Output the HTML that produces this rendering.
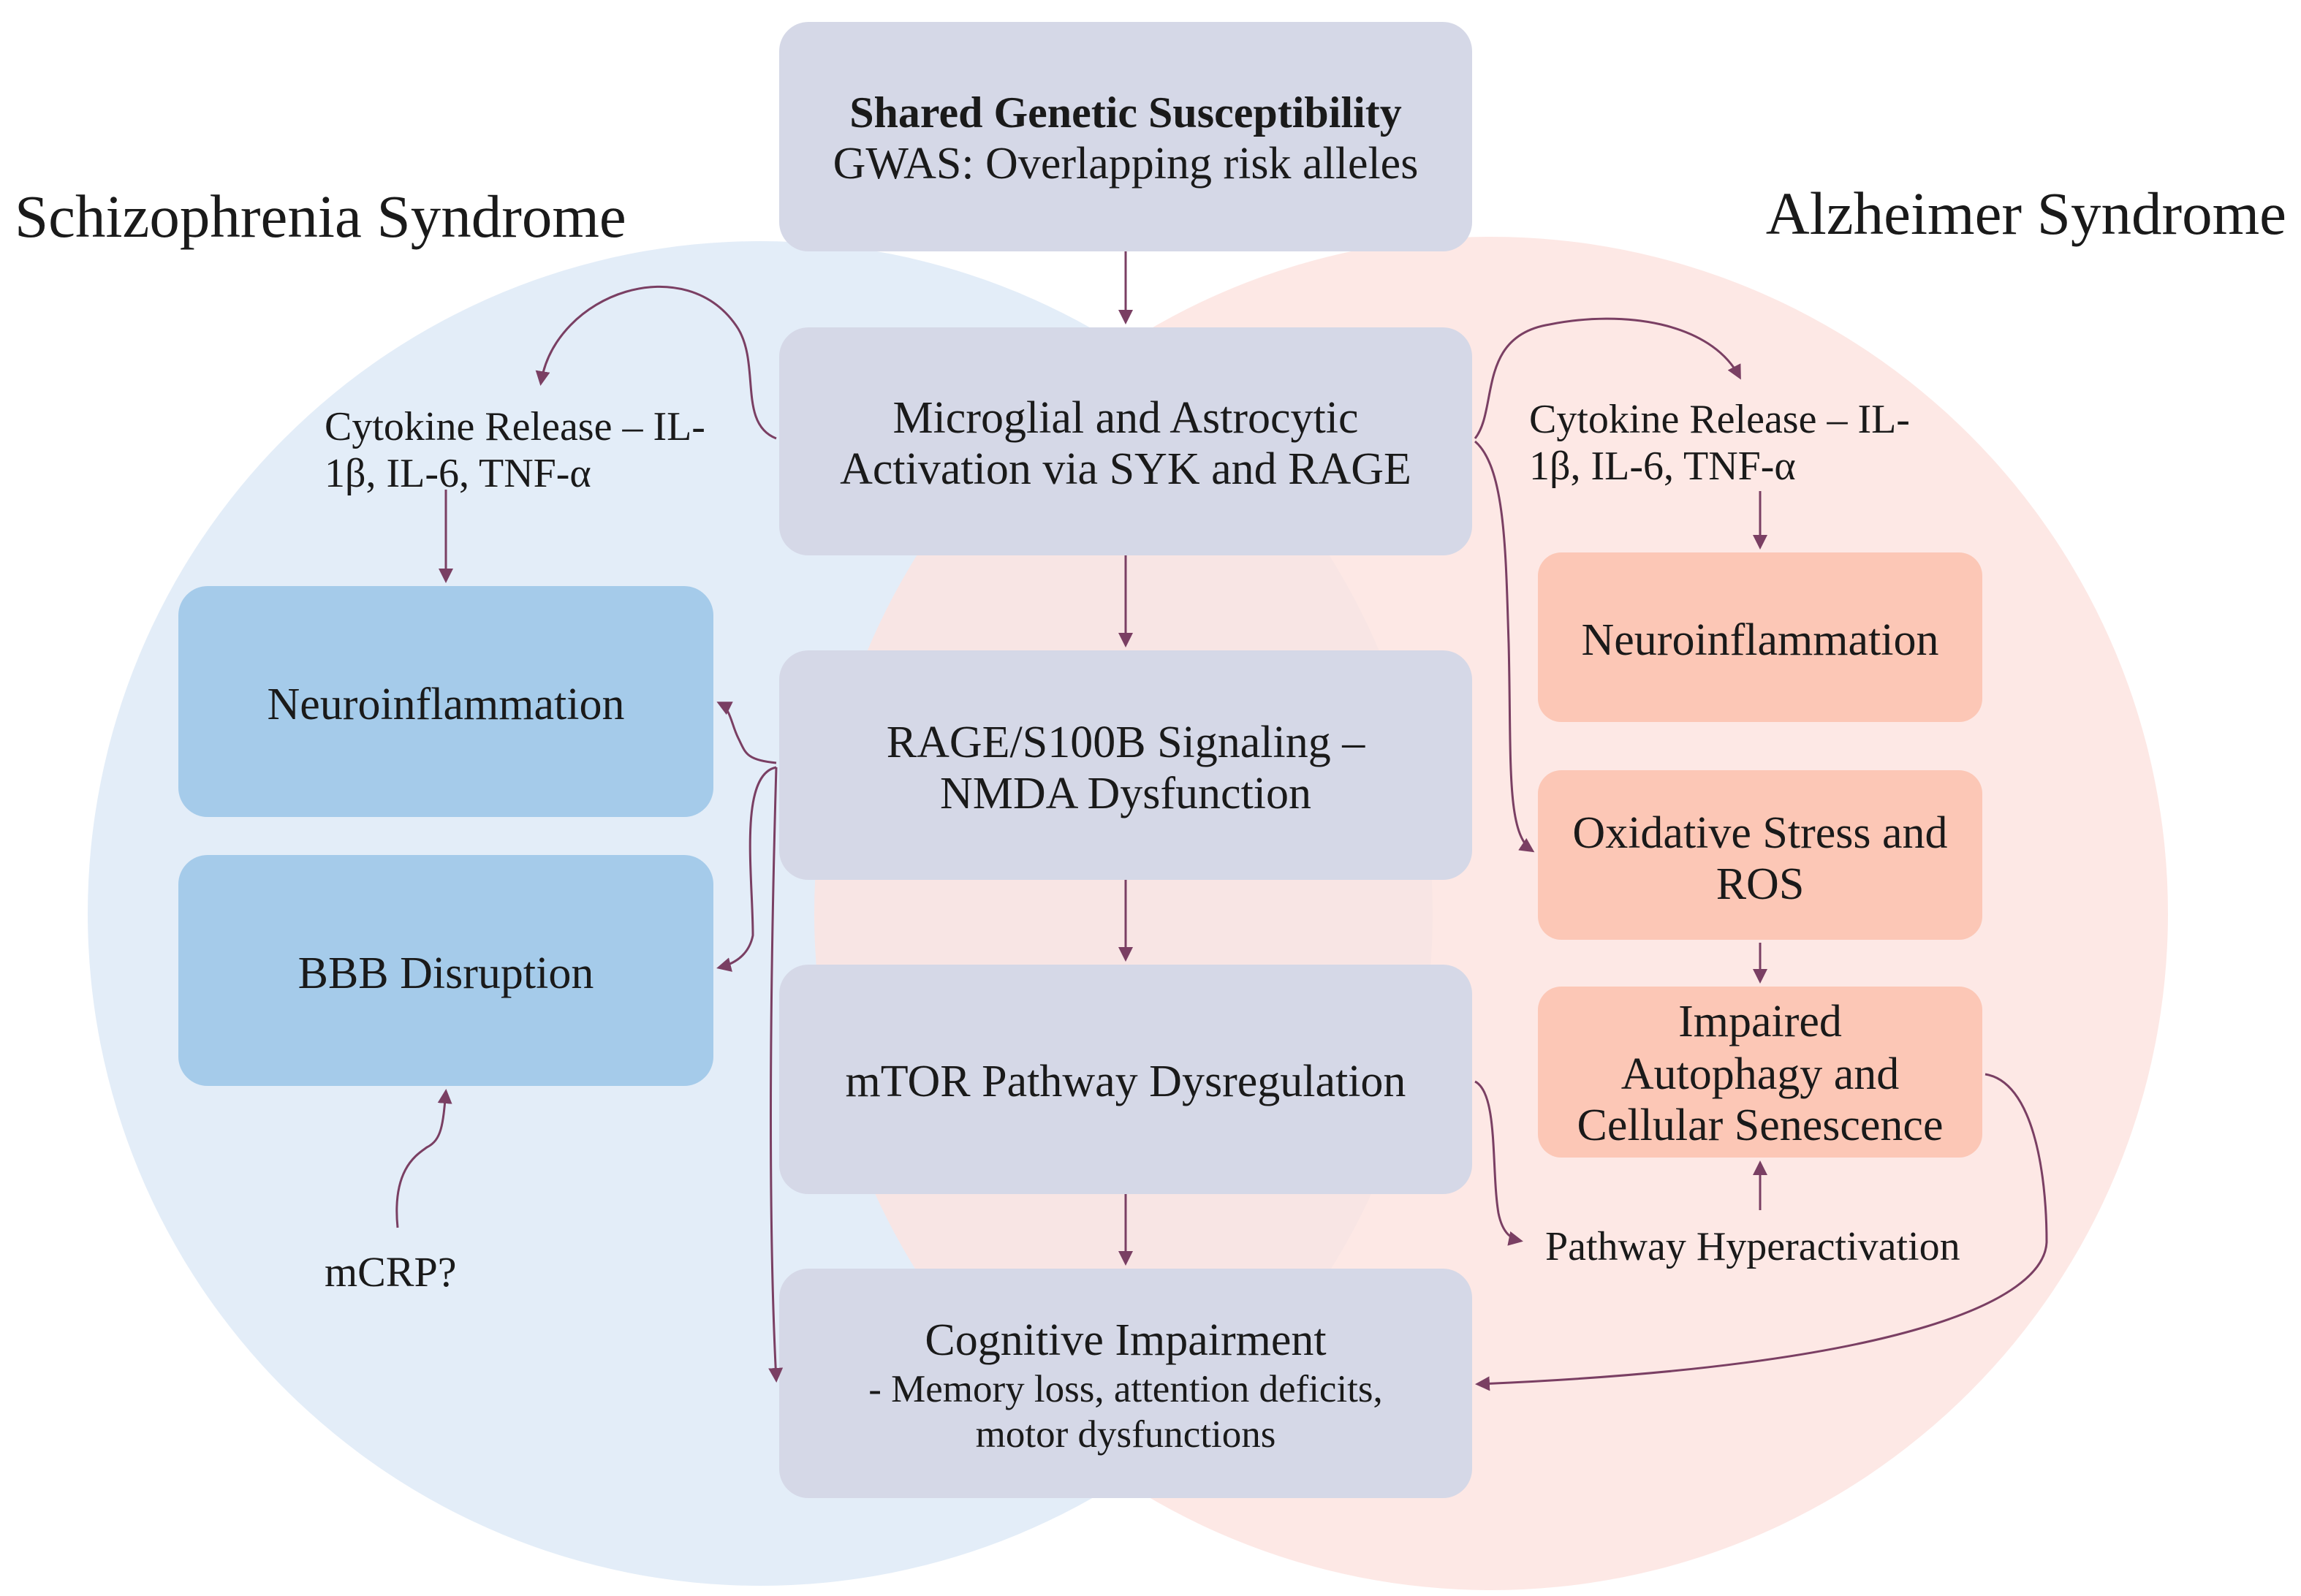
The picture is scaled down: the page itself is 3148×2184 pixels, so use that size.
<!DOCTYPE html>
<html><head><meta charset="utf-8"><style>
html,body{margin:0;padding:0;background:#fff;}
svg{display:block;}
text{font-family:"Liberation Serif",serif;fill:#1a1a1a;}
</style></head><body>
<svg width="3148" height="2184" viewBox="0 0 1574 1092" xmlns="http://www.w3.org/2000/svg">
<defs>
<marker id="a" markerWidth="10" markerHeight="10" refX="8" refY="5" orient="auto" markerUnits="userSpaceOnUse">
<path d="M0,0 L10,5 L0,10 z" fill="#7a3f63"/>
</marker>
</defs>
<rect width="1574" height="1092" fill="#fff"/>
<circle cx="520" cy="625" r="460" fill="#e3edf8"/>
<circle cx="1020" cy="625" r="463" fill="#fde3df" opacity="0.82"/>

<text x="10" y="162" font-size="41.5">Schizophrenia Syndrome</text>
<text x="1564" y="160" font-size="41.5" text-anchor="end">Alzheimer Syndrome</text>

<g fill="#d5d8e7">
<rect x="533" y="15" width="474" height="157" rx="20"/>
<rect x="533" y="224" width="474" height="156" rx="20"/>
<rect x="533" y="445" width="474" height="157" rx="20"/>
<rect x="533" y="660" width="474" height="157" rx="20"/>
<rect x="533" y="868" width="474" height="157" rx="20"/>
</g>
<g fill="#a5cbea">
<rect x="122" y="401" width="366" height="158" rx="20"/>
<rect x="122" y="585" width="366" height="158" rx="20"/>
</g>
<g fill="#fcc7b6">
<rect x="1052" y="378" width="304" height="116" rx="16"/>
<rect x="1052" y="527" width="304" height="116" rx="16"/>
<rect x="1052" y="675" width="304" height="117" rx="16"/>
</g>

<g font-size="31" text-anchor="middle">
<text x="770" y="87" font-weight="bold" font-size="30">Shared Genetic Susceptibility</text>
<text x="770" y="122">GWAS: Overlapping risk alleles</text>
<text x="770" y="296">Microglial and Astrocytic</text>
<text x="770" y="331">Activation via SYK and RAGE</text>
<text x="770" y="518">RAGE/S100B Signaling –</text>
<text x="770" y="553">NMDA Dysfunction</text>
<text x="770" y="750">mTOR Pathway Dysregulation</text>
<text x="770" y="927">Cognitive Impairment</text>
<text x="770" y="959" font-size="26.5">- Memory loss, attention deficits,</text>
<text x="770" y="990" font-size="26.5">motor dysfunctions</text>
<text x="305" y="492">Neuroinflammation</text>
<text x="305" y="676">BBB Disruption</text>
<text x="1204" y="448">Neuroinflammation</text>
<text x="1204" y="580">Oxidative Stress and</text>
<text x="1204" y="615">ROS</text>
<text x="1204" y="709">Impaired</text>
<text x="1204" y="745">Autophagy and</text>
<text x="1204" y="780">Cellular Senescence</text>
</g>
<g font-size="28">
<text x="222" y="301">Cytokine Release – IL-</text>
<text x="222" y="333">1β, IL-6, TNF-α</text>
<text x="1046" y="296">Cytokine Release – IL-</text>
<text x="1046" y="328">1β, IL-6, TNF-α</text>
<text x="1057" y="862">Pathway Hyperactivation</text>
<text x="222" y="880" font-size="29">mCRP?</text>
</g>

<g stroke="#7a3f63" stroke-width="1.5" fill="none" marker-end="url(#a)">
<path d="M770 172 V220"/>
<path d="M770 380 V441"/>
<path d="M770 602 V656"/>
<path d="M770 817 V864"/>
<path d="M531 300 C505 290 520 250 505 225 C470 170 380 200 370 262"/>
<path d="M1009 300 C1025 280 1010 230 1060 222 C1110 212 1170 220 1190 258"/>
<path d="M305 335 V397"/>
<path d="M1204 336 V374"/>
<path d="M1204 645 V671"/>
<path d="M1204 828 V796"/>
<path d="M531 522 C510 520 510 515 505 505 C500 495 500 485 492 481"/>
<path d="M531 525 C505 530 515 600 515 640 C512 655 500 660 492 662"/>
<path d="M531 525 C526 700 526 850 531 944"/>
<path d="M1009 302 C1030 320 1030 380 1032 440 C1034 520 1030 570 1048 582"/>
<path d="M1009 740 C1025 748 1020 800 1025 830 C1028 845 1035 848 1040 849"/>
<path d="M1358 735 C1390 740 1400 800 1400 850 C1398 890 1300 935 1011 947"/>
<path d="M272 840 C268 800 285 790 292 785 C302 780 303 770 305 747"/>
</g>
</svg>
</body></html>
